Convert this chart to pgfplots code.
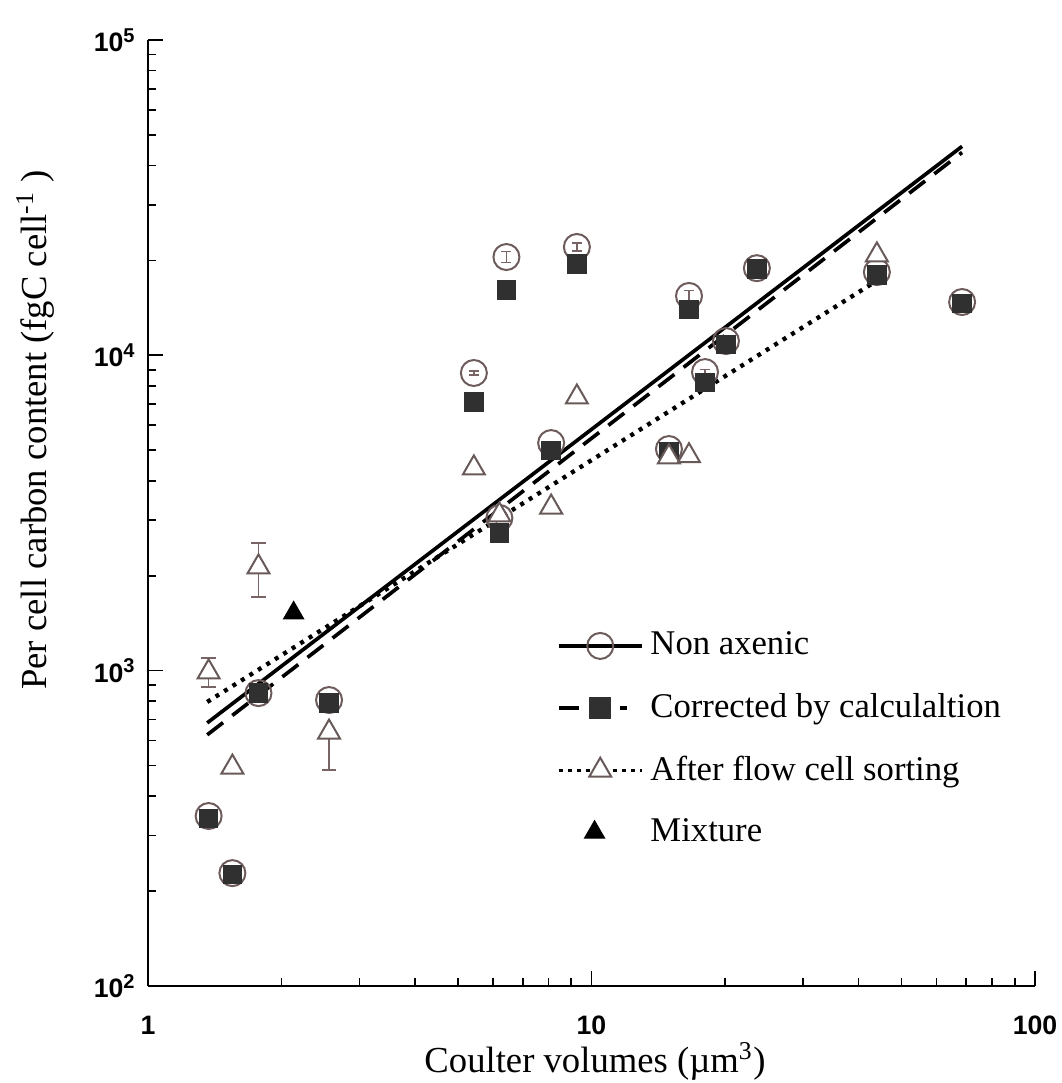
\documentclass[border=0pt]{standalone}
\usepackage{fontspec}
\setmainfont{Liberation Serif}
\newfontfamily\tickfont{Liberation Sans}
\usepackage{pgfplots}
\pgfplotsset{compat=1.18}
\pgfplotsset{mixlegend/.style={legend image code/.code={\draw[##1] plot coordinates {(0.38cm,0cm)};}}}

\definecolor{circ}{RGB}{110,92,92}
\definecolor{sq}{RGB}{48,48,48}
\definecolor{tri}{RGB}{105,90,90}
\definecolor{err}{RGB}{120,100,100}

\begin{document}
\begin{tikzpicture}
\path[use as bounding box] (-44.4pt,-29.1pt) rectangle (274.2pt,295.8pt);
\begin{axis}[
  scale only axis, width=266.1pt, height=283.8pt,
  xmode=log, ymode=log,
  xmin=1, xmax=100, ymin=100, ymax=100000,
  axis lines*=left,
  axis line style={line width=0.6pt},
  tick style={black, line width=0.5pt},
  major tick length=4.5pt, minor tick length=2.4pt,
  tick align=inside,
  xtick={1,10,100}, xticklabels={1,10,100},
  ytick={100,1000,10000,100000},
  yticklabels={10\textsuperscript{2},10\textsuperscript{3},10\textsuperscript{4},10\textsuperscript{5}},
  minor xtick={2,3,4,5,6,7,8,9,20,30,40,50,60,70,80,90},
  minor ytick={200,300,400,500,600,700,800,900,2000,3000,4000,5000,6000,7000,8000,9000,20000,30000,40000,50000,60000,70000,80000,90000},
  ticklabel style={font=\tickfont\bfseries\fontsize{8}{9}\selectfont},
  xticklabel style={yshift=-5.5pt},
  xlabel={Coulter volumes (µm\textsuperscript{3})},
  ylabel={Per cell carbon content (fgC cell\textsuperscript{-1} )},
  label style={font=\fontsize{11}{13}\selectfont},
  xlabel style={at={(axis description cs:0.504,-0.08)}, anchor=center},
  ylabel style={at={(axis description cs:-0.127,0.588)}, anchor=center},
  legend style={at={(axis description cs:0.46,0.382)}, anchor=north west, draw=none, fill=none,
    font=\fontsize{10.4}{12}\selectfont, row sep=6pt, inner sep=0pt, cells={anchor=west}},
  legend image code/.code={\draw[mark repeat=2,mark phase=2,#1] plot coordinates {(0cm,0cm) (0.44cm,0cm) (0.88cm,0cm)};},
]
% Non axenic circles (no error bars)
\addplot[only marks, mark=o, mark size=3.9pt, mark options={draw=circ, line width=0.6pt}, forget plot] coordinates {
(1.37,346) (1.55,228) (1.775,849) (2.56,807) (6.20,3050) (8.11,5270)
(14.95,5045) (20.1,11100) (23.6,18900) (44.0,18370) (68.5,14760)
};
% Non axenic circles with error bars
\addplot[only marks, mark=o, mark size=3.9pt, mark options={draw=circ, line width=0.6pt}, forget plot,
  error bars/.cd, y dir=both, y explicit, error bar style={draw=err, line width=0.5pt},
  error mark options={draw=err, mark size=1.5pt, rotate=90}] coordinates {
(5.43,8790) +- (0,130)
(6.43,20500) +- (0,820)
(9.27,22060) +- (0,650)
(16.59,15430) +- (0,650)
(18.03,8850) +- (0,150)
};
% Corrected squares
\addplot[only marks, mark=square*, mark size=2.7pt, mark options={draw=sq, fill=sq}, forget plot] coordinates {
(1.37,340) (1.55,226) (1.775,850) (2.56,790) (5.43,7110) (6.43,16100) (6.20,2730) (8.11,5000)
(9.27,19480) (14.95,4950) (16.59,14000) (18.03,8220) (20.1,10800) (23.6,18800) (44.0,17970) (68.5,14600)
};
% After flow cell sorting triangles, no error bars
\addplot[only marks, mark=triangle*, mark size=3.8pt, mark options={draw=tri, fill=white, line width=0.6pt}, forget plot] coordinates {
(1.55,494) (5.43,4390) (6.20,3115) (8.11,3300) (9.27,7370) (14.95,4760) (16.59,4800) (44.0,20800)
};
% triangles with error bars
\addplot[only marks, mark=triangle*, mark size=3.8pt, mark options={draw=tri, fill=white, line width=0.6pt}, forget plot,
  error bars/.cd, y dir=both, y explicit, error bar style={draw=err, line width=0.5pt},
  error mark options={draw=err, mark size=2.2pt, rotate=90}] coordinates {
(1.37,990) += (0,107) -= (0,103)
(1.775,2131) += (0,409) -= (0,419)
(2.56,638) += (0,0) -= (0,154)
};
% Mixture
\addplot[only marks, mark=triangle*, mark size=3.4pt, mark options={draw=black, fill=black}, forget plot] coordinates {
(2.13,1523)
};
% Regression lines
\addplot[black, line width=1.1pt, forget plot] coordinates {(1.36,683) (68.5,46000)};
\addplot[black, line width=1.1pt, dash pattern=on 6pt off 3.5pt, forget plot] coordinates {(1.36,626) (68.5,44000)};
\addplot[black, line width=1.3pt, dash pattern=on 1.2pt off 1.8pt, forget plot] coordinates {(1.36,796) (44.0,17250)};

\addlegendimage{black, line width=1.1pt, mark=o, mark size=3.9pt, mark options={draw=circ, solid, line width=0.6pt, fill=white}}
\addlegendentry{Non axenic}
\addlegendimage{black, line width=1.1pt, dash pattern=on 6pt off 3.5pt on 3pt off 6pt on 2pt off 10pt, mark=square*, mark size=2.7pt, mark options={draw=sq, fill=sq, solid}}
\addlegendentry{Corrected by calculaltion}
\addlegendimage{black, line width=0.9pt, dash pattern=on 1.2pt off 1.5pt, mark=triangle*, mark size=3.8pt, mark options={draw=tri, fill=white, solid, line width=0.6pt}}
\addlegendentry{After flow cell sorting}
\addlegendimage{only marks, mark=triangle*, mark size=3.4pt, mark options={draw=black, fill=black}, mixlegend}
\addlegendentry{Mixture}
\end{axis}
\end{tikzpicture}
\end{document}
